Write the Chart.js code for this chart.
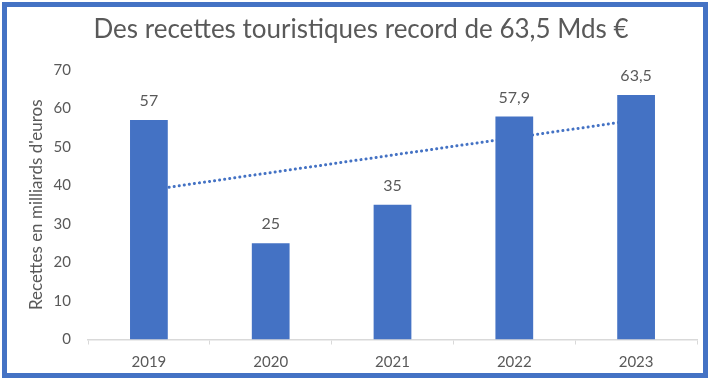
<!DOCTYPE html>
<html>
<head>
<meta charset="utf-8">
<script src="https://cdn.jsdelivr.net/npm/chart.js@4/dist/chart.umd.min.js"></script>
<style>
  html, body { margin: 0; padding: 0; background: #fff; }
  #wrap { position: relative; width: 711px; height: 380px; }
  #frame { position: absolute; left: 2px; top: 2px; width: 706px; height: 376px; border: 5px solid #4472C4; box-sizing: border-box; pointer-events: none; }
</style>
</head>
<body>
<div id="wrap">
  <canvas id="c" width="711" height="380"></canvas>
  <div id="frame"></div>
</div>
<script>
const categories = ['2019', '2020', '2021', '2022', '2023'];
const recettes = [57, 25, 35, 57.9, 63.5];
const tendance = [38.8, null, null, null, 57.0];
const yTicks = [0, 10, 20, 30, 40, 50, 60, 70];
const titre = 'Des recettes touristiques record de 63,5 Mds €';
const titreAxeY = "Recettes en milliards d'euros";

const FONT = 'Lato, "Open Sans", sans-serif';
const GREY = '#595959';
const BLUE = '#4472C4';

const valueLabels = {
  id: 'valueLabels',
  afterDatasetsDraw(chart) {
    const meta = chart.getDatasetMeta(0);
    const ctx = chart.ctx;
    ctx.save();
    ctx.font = '16px ' + FONT;
    ctx.fillStyle = GREY;
    ctx.textAlign = 'center';
    ctx.textBaseline = 'alphabetic';
    meta.data.forEach((bar, i) => {
      ctx.fillText(String(recettes[i]).replace('.', ','), bar.x, bar.y - 14);
    });
    ctx.restore();
  }
};

new Chart(document.getElementById('c'), {
  data: {
    labels: categories,
    datasets: [
      {
        type: 'bar',
        data: recettes,
        backgroundColor: BLUE,
        borderWidth: 0,
        categoryPercentage: 0.31,
        barPercentage: 1,
        order: 0
      },
      {
        type: 'line',
        data: tendance,
        spanGaps: true,
        borderColor: BLUE,
        borderWidth: 3,
        borderDash: [0.1, 5],
        borderCapStyle: 'round',
        pointRadius: 0,
        fill: false,
        order: 1
      }
    ]
  },
  options: {
    responsive: false,
    animation: false,
    layout: { padding: { left: 25, right: 14, top: 0, bottom: 0 } },
    plugins: {
      legend: { display: false },
      tooltip: { enabled: false },
      title: {
        display: true,
        text: titre,
        color: GREY,
        font: { family: FONT, size: 26, weight: 'normal', lineHeight: 1.2 },
        padding: { top: 14.4, bottom: 24.4 }
      }
    },
    scales: {
      x: {
        grid: { display: true, drawOnChartArea: false, drawTicks: true, tickLength: 5, offset: true, color: '#D9D9D9', lineWidth: 1 },
        border: { display: true, color: '#D9D9D9', width: 1.5 },
        ticks: { color: GREY, font: { family: FONT, size: 15 }, padding: 9, maxRotation: 0 },
        afterFit(scale) { scale.height = 40.5; }
      },
      y: {
        min: 0,
        max: 70,
        afterBuildTicks(scale) { scale.ticks = yTicks.map(v => ({ value: v })); },
        grid: { display: false, drawTicks: false },
        border: { display: false },
        ticks: { color: GREY, font: { family: FONT, size: 15 }, padding: 17 },
        title: {
          display: true,
          text: titreAxeY,
          color: GREY,
          font: { family: FONT, size: 17 },
          padding: { top: 1, bottom: 0 }
        },
        afterFit(scale) { scale.width = 63; }
      }
    }
  },
  plugins: [valueLabels]
});
</script>
</body>
</html>
